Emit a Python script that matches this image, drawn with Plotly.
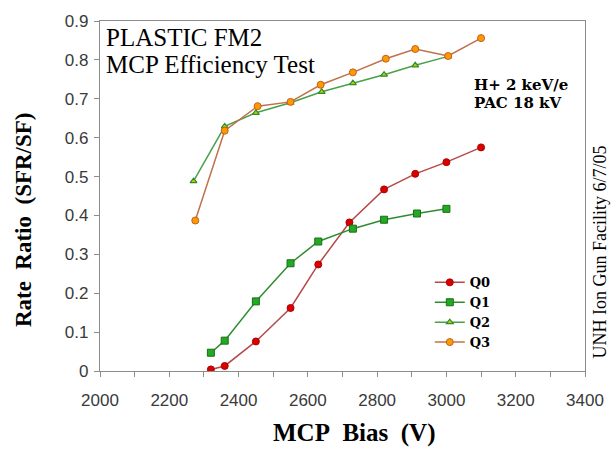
import plotly.graph_objects as go

q0_x = [2320, 2360, 2450, 2550, 2630, 2720, 2820, 2910, 3000, 3100]
q0_y = [0.004, 0.013, 0.076, 0.162, 0.274, 0.382, 0.467, 0.507, 0.537, 0.575]

q1_x = [2320, 2360, 2450, 2550, 2630, 2730, 2820, 2915, 3000]
q1_y = [0.047, 0.078, 0.179, 0.277, 0.333, 0.366, 0.389, 0.405, 0.417]

q2_x = [2270, 2360, 2450, 2550, 2640, 2730, 2820, 2910, 3005]
q2_y = [0.488, 0.629, 0.664, 0.690, 0.718, 0.740, 0.762, 0.786, 0.809]

q3_x = [2275, 2360, 2455, 2550, 2637, 2730, 2825, 2910, 3005, 3100]
q3_y = [0.387, 0.618, 0.681, 0.692, 0.736, 0.768, 0.803, 0.828, 0.810, 0.856]

W, H = 616, 451
L, R, T, B = 100, 25, 16, 80

fig = go.Figure()
fig.add_trace(go.Scatter(x=q0_x, y=q0_y, name="Q0", mode="lines+markers",
                         line=dict(color="#b84848", width=1.5),
                         marker=dict(symbol="circle", size=7, color="#d80000",
                                     line=dict(color="#b00000", width=1))))
fig.add_trace(go.Scatter(x=q1_x, y=q1_y, name="Q1", mode="lines+markers",
                         line=dict(color="#2e8b2e", width=1.5),
                         marker=dict(symbol="square", size=7, color="#22aa22",
                                     line=dict(color="#1a6e1a", width=1))))
fig.add_trace(go.Scatter(x=q2_x, y=q2_y, name="Q2", mode="lines+markers",
                         line=dict(color="#4aa04a", width=1.5),
                         marker=dict(symbol="triangle-up", size=6, color="#b8d000",
                                     line=dict(color="#2e8b2e", width=1.2))))
fig.add_trace(go.Scatter(x=q3_x, y=q3_y, name="Q3", mode="lines+markers",
                         line=dict(color="#c0704a", width=1.5),
                         marker=dict(symbol="circle", size=7, color="#ff9900",
                                     line=dict(color="#c06020", width=1))))

axis_common = dict(showline=True, linecolor="#8c8c8c", linewidth=1.2, mirror=True,
                   showgrid=False, zeroline=False, ticks="outside", ticklen=5,
                   tickcolor="#8c8c8c",
                   tickfont=dict(family="Liberation Sans, Arial", size=17, color="#3a3a3a"))

fig.update_layout(
    width=W, height=H,
    margin=dict(l=L, r=R, t=T, b=B),
    paper_bgcolor="white", plot_bgcolor="white",
    xaxis=dict(range=[2000, 3400], dtick=200, tick0=2000, ticklabelstandoff=8,
               minor=dict(dtick=100, ticks="outside", ticklen=5, tickcolor="#8c8c8c"),
               **axis_common),
    yaxis=dict(range=[0, 0.9], dtick=0.1, tickformat="~g", ticklabelstandoff=2,
               **axis_common),
    showlegend=True,
    legend=dict(x=0.68, y=0.296, xanchor="left", yanchor="top",
                bgcolor="rgba(0,0,0,0)",
                font=dict(family="DejaVu Serif", size=13, color="black", weight="bold"),
                tracegroupgap=0, itemwidth=30),
)

serif = "Liberation Serif, Times New Roman"
ann = [
    dict(text="<b>MCP&nbsp; Bias&nbsp; (V)</b>", x=357, y=434, size=25),
    dict(text="<b>Rate&nbsp; Ratio&nbsp; (SFR/SF)</b>", x=22, y=217, size=23, angle=-90),
    dict(text="UNH Ion Gun Facility 6/7/05", x=606, y=250, size=18, angle=-90),
]
for a in ann:
    fig.add_annotation(text=a["text"], xref="paper", yref="paper",
                       x=(a["x"] - L) / (W - L - R), y=(H - B - a["y"]) / (H - T - B),
                       xanchor="center", yanchor="middle", showarrow=False,
                       textangle=a.get("angle", 0),
                       font=dict(family=serif, size=a["size"], color="black"))

left_ann = [
    dict(text="PLASTIC FM2", x=104, y=33, size=25, fam=serif),
    dict(text="MCP Efficiency Test", x=104, y=60, size=25, fam=serif),
    dict(text="<b>H+ 2 keV/e</b>", x=477, y=81, size=15, fam="DejaVu Serif"),
    dict(text="<b>PAC 18 kV</b>", x=477, y=99, size=15, fam="DejaVu Serif"),
]
for a in left_ann:
    fig.add_annotation(text=a["text"], xref="paper", yref="paper",
                       x=(a["x"] - L) / (W - L - R), y=(H - B - a["y"]) / (H - T - B),
                       xanchor="left", yanchor="middle", showarrow=False,
                       font=dict(family=a["fam"], size=a["size"], color="black"))

fig.write_html("out.html")
